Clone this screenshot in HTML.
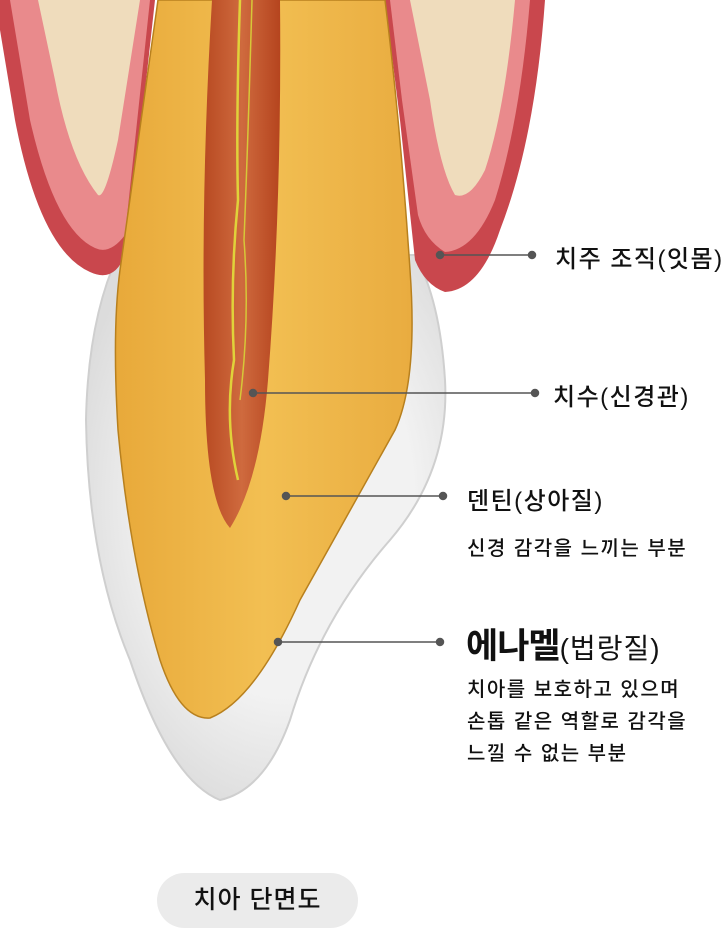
<!DOCTYPE html>
<html><head><meta charset="utf-8"><style>
html,body{margin:0;padding:0;background:#fff;width:723px;height:929px;overflow:hidden;position:relative}
.t{position:absolute;font-family:"Liberation Sans","Noto Sans CJK KR",sans-serif;color:#111;white-space:nowrap;letter-spacing:1.5px;font-weight:500}
</style></head><body>
<svg width="723" height="929" style="position:absolute;left:0;top:0">
<defs>
<linearGradient id="den" x1="0" x2="1"><stop offset="0" stop-color="#e8a93a"/><stop offset="0.5" stop-color="#f2bf52"/><stop offset="1" stop-color="#e9ac40"/></linearGradient>
<linearGradient id="pulp" x1="0" x2="1"><stop offset="0" stop-color="#b84a22"/><stop offset="0.5" stop-color="#cf6a3e"/><stop offset="1" stop-color="#b5441e"/></linearGradient>
<radialGradient id="en" cx="0.55" cy="0.45" r="0.6"><stop offset="0.6" stop-color="#f2f2f2"/><stop offset="1" stop-color="#dcdcdc"/></radialGradient>
</defs>
<path d="M118,255 Q88,320 86,420 Q88,560 130,660 Q170,780 220,800 Q265,790 290,720 Q320,620 390,540 Q450,470 445,380 Q440,300 415,255 Z" fill="url(#en)" stroke="#cfcfcf" stroke-width="2"/>
<path d="M0,0 L155,0 L128,245 Q118,285 90,272 Q40,250 15,120 Q5,60 0,30 Z" fill="#c9474d"/>
<path d="M10,0 L150,0 L125,235 Q110,255 95,248 Q55,230 30,120 Z" fill="#e98a8c"/>
<path d="M38,0 L140,0 L118,140 Q105,200 98,195 Q70,160 55,80 Z" fill="#efdcbc"/>
<path d="M385,0 L545,0 Q535,140 500,230 Q480,290 445,292 Q425,285 415,260 L400,120 Z" fill="#c9474d"/>
<path d="M390,0 L530,0 Q520,120 495,200 Q475,250 445,252 Q425,240 418,215 L402,100 Z" fill="#e98a8c"/>
<path d="M410,0 L515,0 Q505,110 485,170 Q470,200 455,195 Q440,170 430,100 Z" fill="#efdcbc"/>
<path d="M158,0 L385,0 Q400,120 410,270 Q418,380 395,430 Q345,520 300,600 Q255,700 210,718 Q180,720 160,660 Q130,560 118,430 Q112,330 120,270 Z" fill="url(#den)" stroke="#b8801e" stroke-width="1.5"/>
<path d="M212,0 L280,0 Q282,200 268,380 Q260,480 230,528 Q205,500 205,380 Q200,200 212,0 Z" fill="url(#pulp)"/>
<path d="M240,0 Q236,120 238,200 Q230,280 234,360 Q224,420 238,480" stroke="#e0d23a" stroke-width="2.5" fill="none"/>
<path d="M252,0 Q248,140 244,240 Q250,320 240,400" stroke="#d6c838" stroke-width="1.5" fill="none"/>
<g stroke="#555" stroke-width="1.5" fill="#555">
<line x1="440" y1="255" x2="532" y2="255"/><circle cx="440" cy="255" r="3.5"/><circle cx="532" cy="255" r="3.5"/>
<line x1="253" y1="393" x2="535" y2="393"/><circle cx="253" cy="393" r="3.5"/><circle cx="535" cy="393" r="3.5"/>
<line x1="286" y1="496" x2="443" y2="496"/><circle cx="286" cy="496" r="3.5"/><circle cx="443" cy="496" r="3.5"/>
<line x1="278" y1="642" x2="440" y2="642"/><circle cx="278" cy="642" r="3.5"/><circle cx="440" cy="642" r="3.5"/>
</g>
</svg>
<div class="t" style="left:555px;top:239px;font-size:24px">치주 조직(잇몸)</div>
<div class="t" style="left:553px;top:377px;font-size:24px">치수(신경관)</div>
<div class="t" style="left:467px;top:481px;font-size:24px">덴틴(상아질)</div>
<div class="t" style="left:467px;top:532px;font-size:20px">신경 감각을 느끼는 부분</div>
<div class="t" style="left:466px;top:618px;font-size:35px;font-weight:bold;letter-spacing:-1px">에나멜<span style="font-size:28px;font-weight:normal;letter-spacing:1px">(법랑질)</span></div>
<div class="t" style="left:467px;top:674px;font-size:20px;line-height:32px">치아를 보호하고 있으며<br>손톱 같은 역할로 감각을<br>느낄 수 없는 부분</div>
<div style="position:absolute;left:157px;top:873px;width:201px;height:55px;border-radius:28px;background:#ebebeb"></div>
<div class="t" style="left:157px;top:873px;width:201px;height:55px;line-height:55px;text-align:center;font-size:25px;letter-spacing:1px">치아 단면도</div>
</body></html>
